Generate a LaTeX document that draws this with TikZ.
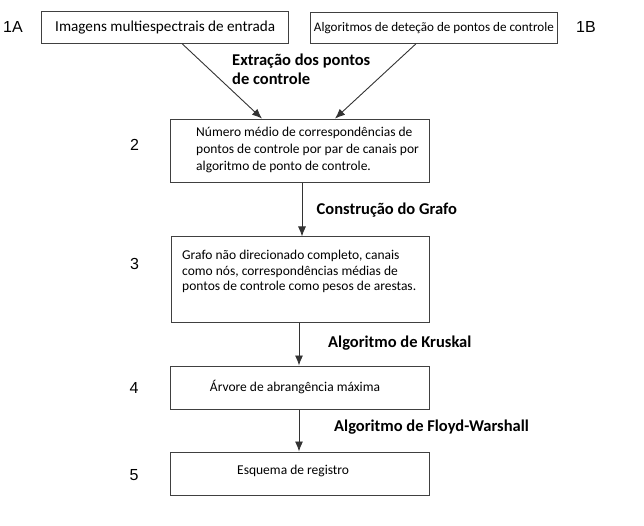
\documentclass[tikz,border=0pt]{standalone}
\usepackage{fontspec}
\setmainfont{Carlito}
\newfontfamily\numfont{Liberation Sans}
\usepackage{tikz}
\usetikzlibrary{arrows.meta,positioning}
\tikzstyle{stepbox} = [rectangle, draw=black!75, line width=1pt, fill=white, minimum width=259pt, inner sep=0pt, text=black]
\tikzstyle{boxtext} = [inner sep=0pt, anchor=west, align=left, font=\fontsize{13.5}{17}\selectfont]
\tikzstyle{steplabel} = [inner sep=0pt, anchor=west, align=left, font=\bfseries\fontsize{16.5}{19}\selectfont]
\tikzstyle{stepnum} = [inner sep=0pt, font=\numfont\fontsize{16}{18}\selectfont]
\tikzstyle{tedge} = [draw=black!80, line width=0.9pt, -{Latex[length=10pt,width=8pt]}]

\begin{document}
\begin{tikzpicture}[x=1pt, y=-1pt]
\useasboundingbox (0,0) rectangle (644,526);

% inputs =============================
\node[stepbox, minimum width=247pt, minimum height=31.6pt, font=\fontsize{15.2}{17}\selectfont] (input) at (165.2,27.5) {Imagens multiespectrais de entrada};
\node[stepbox, minimum width=247.7pt, minimum height=31.3pt, font=\fontsize{13.1}{15}\selectfont] (detect) at (433.9,27.7) {Algoritmos de deteção de pontos de controle};
\node[stepnum] (n1a) at (13,27.5) {1A};
\node[stepnum] (n1b) at (586,27.5) {1B};

% steps
\node[stepbox, minimum height=63.7pt] (matches) at (299.5,151) {};
\node[boxtext] (matches-txt) at (196,150) {Número médio de correspondências de\\pontos de controle por par de canais por\\algoritmo de ponto de controle.};
\node[stepbox, minimum width=258pt, minimum height=85pt] (graph) at (300,279.5) {};
\node[boxtext, font=\fontsize{13.5}{15.5}\selectfont] (graph-txt) at (182,271.5) {Grafo não direcionado completo, canais\\como nós, correspondências médias de\\pontos de controle como pesos de arestas.};
\node[stepbox, minimum height=43pt, font=\fontsize{13.5}{15}\selectfont] (tree) at (299.5,387.5) {\hspace*{-9pt}Árvore de abrangência máxima};
\node[stepbox, minimum height=43pt] (scheme) at (299.5,473.5) {};
\node[boxtext] (scheme-txt) at (237,470.5) {Esquema de registro};

% step numbers
\node[stepnum] (n2) at (134.5,145) {2};
\node[stepnum] (n3) at (134.5,264) {3};
\node[stepnum] (n4) at (134,388) {4};
\node[stepnum] (n5) at (134,475) {5};

% edges
\path[tedge] ([xshift=17pt]input.south) -- ([xshift=-37.5pt]matches.north);
\path[tedge] ([xshift=-18pt]detect.south) -- ([xshift=35.5pt]matches.north);
\path[tedge] ([xshift=2.5pt]matches.south) -- ([xshift=2pt]graph.north);
\path[tedge] ([xshift=-1pt]graph.south) -- ([xshift=-0.5pt]tree.north);
\path[tedge] ([xshift=-0.5pt]tree.south) -- ([xshift=-0.5pt]scheme.north);

% edge labels
\node[steplabel] (l-extract) at (232,69.5) {Extração dos pontos\\de controle};
\node[steplabel] (l-graph) at (316.5,210) {Construção do Grafo};
\node[steplabel] (l-kruskal) at (328,343) {Algoritmo de Kruskal};
\node[steplabel] (l-floyd) at (334,427) {Algoritmo de Floyd-Warshall};

\end{tikzpicture}
\end{document}
